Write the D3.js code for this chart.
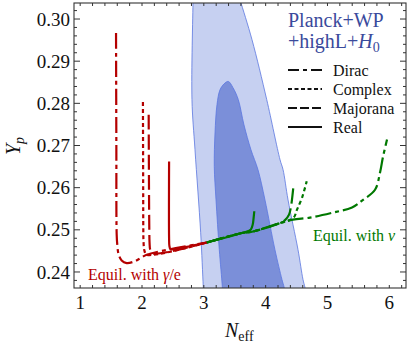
<!DOCTYPE html>
<html><head><meta charset="utf-8">
<script src="https://cdn.jsdelivr.net/npm/d3@7"></script>
<style>
body{margin:0;background:#fff;}
svg text{font-family:"Liberation Serif","DejaVu Serif","Times New Roman",serif;}
</style></head>
<body><svg id="c" width="411" height="346"></svg>
<script>
// ---- data ----
const xTicks = [1, 2, 3, 4, 5, 6];
const yTicks = [0.24, 0.25, 0.26, 0.27, 0.28, 0.29, 0.30];
const yTickLabels = ["0.24", "0.25", "0.26", "0.27", "0.28", "0.29", "0.30"];
const legendLabels = ["Dirac", "Complex", "Majorana", "Real"];

// Planck+WP+highL+H0 contours (N_eff, Y_p)
const contour95 = [[2.825,0.3070],[2.825,0.3046],[2.808,0.2809],[2.857,0.2690],[2.949,0.2493],[2.991,0.2365],[3.003,0.2334],
  [4.669,0.2334],[4.636,0.2363],[4.604,0.2382],[4.523,0.2453],[4.362,0.2571],[4.281,0.2643],[4.233,0.2666],[4.017,0.2809],[3.779,0.2951],[3.585,0.3046],[3.536,0.3070]];
const contour68 = [[3.396,0.2852],[3.472,0.2837],[3.557,0.2809],[3.649,0.2749],[3.762,0.2690],[3.875,0.2643],[3.989,0.2571],[4.150,0.2453],[4.264,0.2382],[4.300,0.2363],[4.329,0.2334],
  [3.310,0.2334],[3.299,0.2365],[3.250,0.2453],[3.197,0.2571],[3.169,0.2650],[3.181,0.2730],[3.213,0.2797],[3.261,0.2832],[3.326,0.2846]];

// Equilibrium with gamma/e (red)
const redDirac = [[1.580,0.2967],[1.585,0.2700],[1.590,0.2490],[1.600,0.2465],[1.620,0.2443],[1.671,0.2427],[1.752,0.2421],[1.859,0.2424],[1.967,0.2432],[2.076,0.2441],[3.049,0.2470]];
const redComplex = [[2.015,0.2803],[2.019,0.2600],[2.021,0.2500],[2.025,0.2470],[2.040,0.2450],[2.076,0.2441],[3.049,0.2470]];
const redMajorana = [[2.108,0.2773],[2.113,0.2600],[2.118,0.2500],[2.122,0.2470],[2.135,0.2452],[2.180,0.2444],[3.049,0.2470]];
const redReal = [[2.438,0.2662],[2.438,0.2480],[2.443,0.2462],[2.460,0.2454],[2.500,0.2454],[3.049,0.2470]];

// Equilibrium with nu (green)
const greenDirac = [[3.049,0.2470],[3.634,0.2493],[3.796,0.2496],[4.232,0.2516],[4.442,0.2524],[4.717,0.2529],[5.089,0.2541],[5.397,0.2553],[5.575,0.2571],[5.769,0.2595],[5.850,0.2636],[5.898,0.2673],[5.963,0.2714]];
const greenComplex = [[3.049,0.2470],[3.634,0.2493],[3.796,0.2496],[4.232,0.2516],[4.447,0.2528],[4.507,0.2548],[4.588,0.2576],[4.664,0.2615]];
const greenMajorana = [[3.049,0.2470],[3.634,0.2493],[3.796,0.2496],[4.232,0.2516],[4.313,0.2523],[4.378,0.2536],[4.410,0.2555],[4.447,0.2600]];
const greenReal = [[3.049,0.2470],[3.634,0.2493],[3.720,0.2497],[3.762,0.2501],[3.790,0.2512],[3.805,0.2528],[3.816,0.2544]];

// ---- drawing ----
const M = {l:74, t:3, r:406, b:288};
const svg = d3.select("#c");
const x = d3.scaleLinear().domain([0.9, 6.27]).range([M.l, M.r]);
const y = d3.scaleLinear().domain([0.2362, 0.3038]).range([M.b, M.t]);
const FONT = "Liberation Serif, DejaVu Serif, serif";

const RED = "#b40000", GREEN = "#007800";
const dash = {Dirac:"16,4,4,4", Complex:"4,3", Majorana:"15,5", Real:null};
const legDash = {Dirac:"11,4,4,4", Complex:"4,2.5", Majorana:"9,3", Real:null};

svg.append("clipPath").attr("id","clip").append("rect")
  .attr("x",M.l).attr("y",M.t).attr("width",M.r-M.l).attr("height",M.b-M.t);
const plot = svg.append("g").attr("clip-path","url(#clip)");

const area = d3.line().x(d=>x(d[0])).y(d=>y(d[1])).curve(d3.curveCatmullRomClosed.alpha(0.5));
plot.append("path").attr("d",area(contour95)).attr("fill","#c6d0f1").attr("stroke","#5a76e0").attr("stroke-width",0.8);
plot.append("path").attr("d",area(contour68)).attr("fill","#7b8fd9").attr("stroke","#5a76e0").attr("stroke-width",0.8);

const lineX = d3.line().x(d=>x(d[0])).y(d=>y(d[1])).curve(d3.curveCatmullRom.alpha(0.5));
const curves = [
  [redDirac,RED,"Dirac"],[redComplex,RED,"Complex"],[redMajorana,RED,"Majorana"],[redReal,RED,"Real"],
  [greenDirac,GREEN,"Dirac"],[greenComplex,GREEN,"Complex"],[greenMajorana,GREEN,"Majorana"],[greenReal,GREEN,"Real"]
];
curves.forEach(([d,c,k])=>{
  plot.append("path").attr("d",lineX(d)).attr("fill","none").attr("stroke",c)
    .attr("stroke-width",2.2).attr("stroke-dasharray",dash[k]).attr("stroke-linejoin","round");
});

// frame and ticks
const fg = svg.append("g").attr("stroke","#333").attr("stroke-width",1);
const minorX = d3.range(0.9999, 6.3, 0.2).filter(v=>v>=0.9 && v<=6.27);
const minorY = d3.range(0.236, 0.3039, 0.002).filter(v=>v>=0.2362);
minorX.forEach(v=>{
  const isMaj = Math.abs(v-Math.round(v))<1e-6;
  const L = isMaj?6:3;
  fg.append("line").attr("x1",x(v)).attr("x2",x(v)).attr("y1",M.b).attr("y2",M.b-L);
  fg.append("line").attr("x1",x(v)).attr("x2",x(v)).attr("y1",M.t).attr("y2",M.t+L);
});
minorY.forEach(v=>{
  const isMaj = Math.abs(v*100-Math.round(v*100))<1e-6;
  const L = isMaj?6:3;
  fg.append("line").attr("y1",y(v)).attr("y2",y(v)).attr("x1",M.l).attr("x2",M.l+L);
  fg.append("line").attr("y1",y(v)).attr("y2",y(v)).attr("x1",M.r).attr("x2",M.r-L);
});
svg.append("rect").attr("x",M.l).attr("y",M.t).attr("width",M.r-M.l).attr("height",M.b-M.t)
  .attr("fill","none").attr("stroke","#333").attr("stroke-width",1.1);

// tick labels
svg.append("g").selectAll("text").data(xTicks).join("text").attr("font-family",FONT)
  .attr("x",d=>x(d)).attr("y",309).attr("text-anchor","middle").attr("font-size",19).attr("fill","#111").text(d=>d);
svg.append("g").selectAll("text").data(yTicks).join("text").attr("font-family",FONT)
  .attr("x",70).attr("y",d=>y(d)).attr("dy","0.35em").attr("text-anchor","end").attr("font-size",19).attr("fill","#111")
  .text((d,i)=>yTickLabels[i]);

// axis titles
const xt = svg.append("text").attr("font-family",FONT).attr("x",225).attr("y",337).attr("font-size",20).attr("fill","#111");
xt.append("tspan").attr("font-style","italic").text("N");
xt.append("tspan").attr("font-size",14).attr("dy",4).text("eff");
const yt = svg.append("text").attr("font-family",FONT).attr("transform","translate(20,155) rotate(-90)").attr("font-size",20).attr("fill","#111");
yt.append("tspan").attr("font-style","italic").text("Y");
yt.append("tspan").attr("font-style","italic").attr("font-size",14).attr("dy",4).text("p");

// annotations
const a1 = svg.append("text").attr("font-family",FONT).attr("x",88).attr("y",280).attr("font-size",16).attr("fill",RED);
a1.append("tspan").text("Equil. with ");
a1.append("tspan").attr("font-style","italic").text("γ");
a1.append("tspan").text("/e");
const a2 = svg.append("text").attr("font-family",FONT).attr("x",313).attr("y",241).attr("font-size",16).attr("fill",GREEN);
a2.append("tspan").text("Equil. with ");
a2.append("tspan").attr("font-style","italic").text("ν");

// legend
const BLUE = "#3a4a9c";
svg.append("text").attr("font-family",FONT).attr("x",288).attr("y",27).attr("font-size",20).attr("fill",BLUE).text("Planck+WP");
const l2 = svg.append("text").attr("font-family",FONT).attr("x",288).attr("y",48).attr("font-size",20).attr("fill",BLUE);
l2.append("tspan").text("+highL+");
l2.append("tspan").attr("font-style","italic").text("H");
l2.append("tspan").attr("font-size",14).attr("dy",4).text("0");
legendLabels.forEach((k,i)=>{
  const yy = 70 + i*19;
  svg.append("line").attr("x1",288).attr("x2",322).attr("y1",yy).attr("y2",yy)
    .attr("stroke","#111").attr("stroke-width",2).attr("stroke-dasharray",legDash[k]);
  svg.append("text").attr("font-family",FONT).attr("x",333).attr("y",yy+5.5).attr("font-size",16).attr("fill","#111").text(k);
});
</script></body></html>
